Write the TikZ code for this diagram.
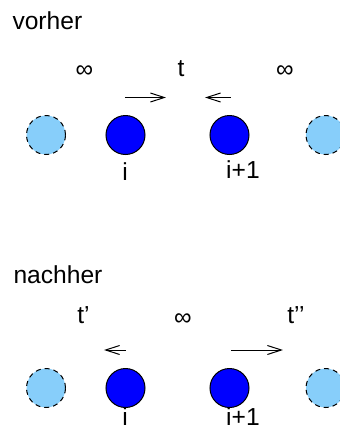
\documentclass[tikz,border=0pt]{standalone}
\usepackage{fontspec}
\setmainfont{Liberation Sans}
\usetikzlibrary{positioning,arrows.meta}
\definecolor{ghostblue}{RGB}{135,206,250}

\begin{document}
\begin{tikzpicture}[x=0.5pt, y=-0.5pt, line width=0.5pt,
  every node/.style={inner sep=0pt, font=\fontsize{12.3}{14}\selectfont},
  site/.style={circle, draw=black, fill=blue, minimum size=19.5pt},
  ghost/.style={circle, draw=black, dashed, dash pattern=on 2.5pt off 2pt, fill=ghostblue, minimum size=19.5pt},
  move/.style={-{Straight Barb[length=7pt,width=4.5pt]}}]
  \useasboundingbox (0,0) rectangle (340,430);
  % vorher
  \node[anchor=base west] (v0) at (12,29) {vorher};
  \node[anchor=base] (v1) at (84.5,77) {∞};
  \node[anchor=base] (v2) at (181,76) {t};
  \node[anchor=base] (v3) at (285,77) {∞};
  \node[ghost] (va) at (46,135) {};
  \node[site] (vi) at (125.5,135) {};
  \node[site] (vj) at (229.5,135) {};
  \node[ghost] (vb) at (325.5,135) {};
  \node[anchor=base] (vli) at (125,180) {i};
  \node[anchor=base] (vlj) at (243,178) {i+1};
  \coordinate (vr0) at (125,97.5);
  \coordinate (vr1) at (166,97.5);
  \coordinate (vl0) at (231,97.5);
  \coordinate (vl1) at (205,97.5);
  \draw[move] (vr0) -- (vr1);
  \draw[move] (vl0) -- (vl1);
  % nachher
  \node[anchor=base west] (n0) at (13,283) {nachher};
  \node[anchor=base] (n1) at (83.5,323) {t’};
  \node[anchor=base] (n2) at (183,325) {∞};
  \node[anchor=base] (n3) at (296,323) {t’’};
  \node[ghost] (na) at (46,388) {};
  \node[site] (ni) at (125.5,388) {};
  \node[site] (nj) at (229.5,388) {};
  \node[ghost] (nb) at (325.5,388) {};
  \node[anchor=base] (nli) at (125,425) {i};
  \node[anchor=base] (nlj) at (243,425) {i+1};
  \coordinate (nl0) at (126,350);
  \coordinate (nl1) at (104,350);
  \coordinate (nr0) at (231,350);
  \coordinate (nr1) at (283,350);
  \draw[move] (nl0) -- (nl1);
  \draw[move] (nr0) -- (nr1);
\end{tikzpicture}
\end{document}
